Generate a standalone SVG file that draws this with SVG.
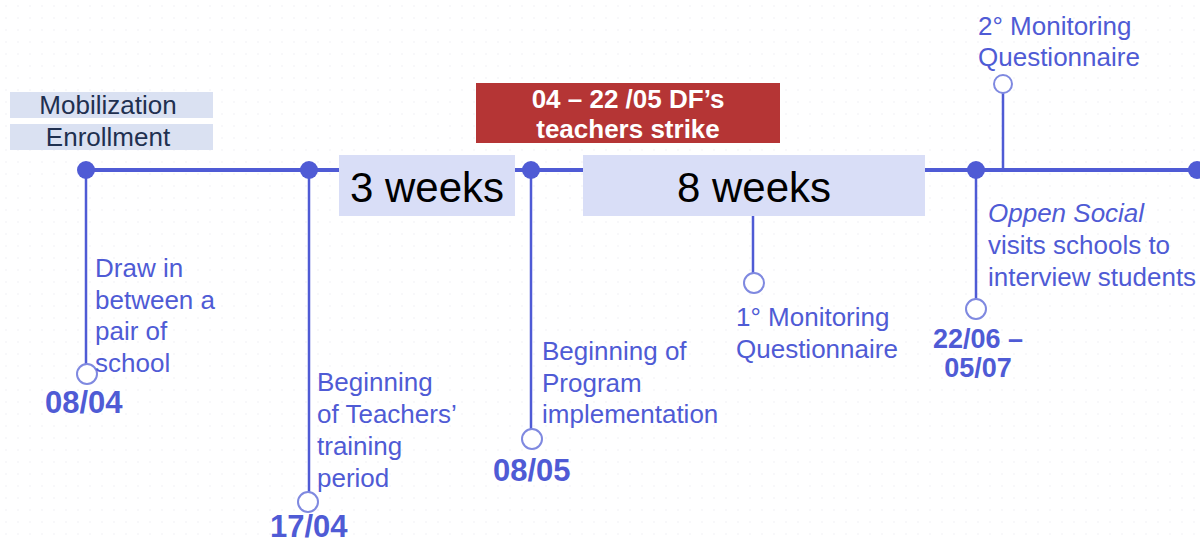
<svg xmlns="http://www.w3.org/2000/svg" width="1200" height="544" viewBox="0 0 1200 544">
<defs>
<pattern id="dots" width="12" height="12" patternUnits="userSpaceOnUse"><circle cx="6" cy="6" r="0.7" fill="#ecebf0"/></pattern>
</defs>
<style>
.t{font-family:"Liberation Sans",Arial,sans-serif;fill:#4F5BD5;font-size:26px}
.d{font-family:"Liberation Sans",Arial,sans-serif;fill:#4F5BD5;font-size:31px;font-weight:bold}
.ln{stroke:#4F5BD5;stroke-width:2.5;fill:none}
.oc{fill:#fff;stroke:#7F89E0;stroke-width:2}
.bd{fill:#4F5BD5}
.lb{fill:#D9DEF7}
.wk{font-family:"Liberation Sans",Arial,sans-serif;font-size:42px;fill:#000;text-anchor:middle}
.mb{fill:#DAE1F2}
.mt{font-family:"Liberation Sans",Arial,sans-serif;font-size:26px;fill:#1F3050;text-anchor:middle}
</style>
<rect width="1200" height="544" fill="#fff"/>
<rect width="1200" height="544" fill="url(#dots)"/>
<g id="connectors">
<line x1="86" y1="170" x2="1200" y2="170" stroke="#4F5BD5" stroke-width="4"/>
<line class="ln" x1="86" y1="170" x2="86" y2="365"/>
<line class="ln" x1="309" y1="170" x2="309" y2="492"/>
<line class="ln" x1="531" y1="170" x2="531" y2="430"/>
<line class="ln" x1="753" y1="216" x2="753" y2="273"/>
<line class="ln" x1="976" y1="170" x2="976" y2="300"/>
<line class="ln" x1="1003" y1="168" x2="1003" y2="93"/>
</g>
<g id="mobilization"><rect class="mb" x="10" y="92" width="203" height="26"/><text class="mt" x="108" y="114">Mobilization</text></g>
<g id="enrollment"><rect class="mb" x="10" y="124" width="203" height="26"/><text class="mt" x="108" y="146">Enrollment</text></g>
<g id="strike"><rect x="476" y="83" width="304" height="60" fill="#B53535"/>
<text font-family="Liberation Sans,Arial,sans-serif" font-weight="bold" font-size="26" fill="#fff" text-anchor="middle"><tspan x="628" y="108">04 – 22 /05 DF’s</tspan><tspan x="628" y="138">teachers strike</tspan></text></g>
<g id="w3"><rect class="lb" x="339" y="155" width="176" height="61"/><text class="wk" x="427" y="202">3 weeks</text></g>
<g id="w8"><rect class="lb" x="583" y="155" width="342" height="61"/><text class="wk" x="754" y="202">8 weeks</text></g>
<g id="n1"><circle class="bd" cx="86" cy="170" r="9"/><circle class="oc" cx="87" cy="374" r="10"/>
<text class="t"><tspan x="95" y="277">Draw in</tspan><tspan x="95" y="309">between a</tspan><tspan x="95" y="340">pair of</tspan><tspan x="95" y="372">school</tspan></text>
<text class="d" x="45" y="413">08/04</text></g>
<g id="n2"><circle class="bd" cx="309" cy="170" r="9"/><circle class="oc" cx="308" cy="502" r="10"/>
<text class="t"><tspan x="317" y="391">Beginning</tspan><tspan x="317" y="423">of Teachers’</tspan><tspan x="317" y="455">training</tspan><tspan x="317" y="487">period</tspan></text>
<text class="d" x="270" y="537">17/04</text></g>
<g id="n3"><circle class="bd" cx="531" cy="170" r="9"/><circle class="oc" cx="532" cy="439" r="10"/>
<text class="t"><tspan x="542" y="360">Beginning of</tspan><tspan x="542" y="392">Program</tspan><tspan x="542" y="423">implementation</tspan></text>
<text class="d" x="493" y="481">08/05</text></g>
<g id="n4"><circle class="oc" cx="754" cy="283" r="10"/>
<text class="t"><tspan x="736" y="326">1° Monitoring</tspan><tspan x="736" y="358">Questionnaire</tspan></text></g>
<g id="n5"><circle class="bd" cx="976" cy="170" r="9"/><circle class="oc" cx="976" cy="309" r="10"/>
<text class="t"><tspan x="988" y="222" font-style="italic">Oppen Social</tspan><tspan x="988" y="254">visits schools to</tspan><tspan x="988" y="286">interview students</tspan></text>
<text class="d" style="font-size:27px" text-anchor="middle"><tspan x="978" y="348">22/06 –</tspan><tspan x="978" y="377">05/07</tspan></text></g>
<g id="n6"><circle class="oc" cx="1003" cy="84" r="9"/>
<text class="t"><tspan x="978" y="35">2° Monitoring</tspan><tspan x="978" y="66">Questionnaire</tspan></text></g>
<g id="n7"><circle class="bd" cx="1197" cy="170" r="9"/></g>
</svg>
